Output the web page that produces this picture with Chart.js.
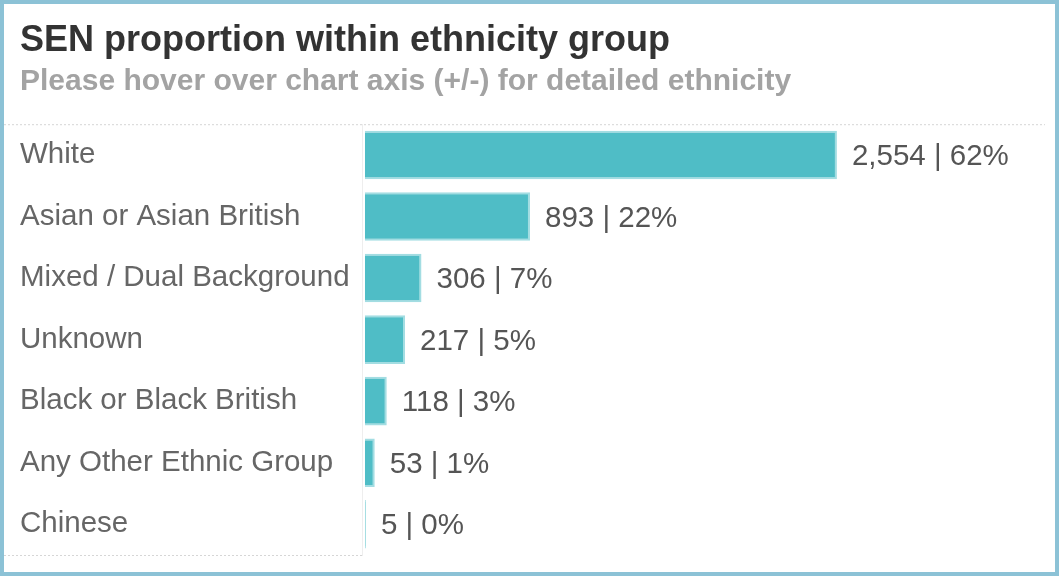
<!DOCTYPE html>
<html>
<head>
<meta charset="utf-8">
<script src="https://cdn.jsdelivr.net/npm/chart.js@4.4.0/dist/chart.umd.min.js"></script>
<style>
  html, body { margin: 0; padding: 0; background: #fff; }
  #wrap { position: relative; width: 1059px; height: 576px; }
  #frame { position: absolute; left: 0; top: 0; right: 0; bottom: 0; border: 4px solid #8cc2d6; pointer-events: none; }
</style>
</head>
<body>
<div id="wrap">
  <canvas id="ethnicityChart" width="1059" height="576"></canvas>
  <div id="frame"></div>
</div>
<script>
// Data
const groups = ['White', 'Asian or Asian British', 'Mixed / Dual Background', 'Unknown', 'Black or Black British', 'Any Other Ethnic Group', 'Chinese'];
const counts = [2554, 893, 306, 217, 118, 53, 5];
const shares = [62, 22, 7, 5, 3, 1, 0];

const FONT = '"Liberation Sans", Arial, sans-serif';

// dotted rules + "count | share" labels next to bars
const barLabels = {
  id: 'barLabels',
  afterDraw(chart) {
    const ctx = chart.ctx;
    const { top, bottom, left, right } = chart.chartArea;
    ctx.save();
    ctx.strokeStyle = '#d6d6d6';
    ctx.lineWidth = 1;
    ctx.setLineDash([2, 2]);
    ctx.beginPath();
    ctx.moveTo(4, top + 0.5); ctx.lineTo(right, top + 0.5);
    ctx.moveTo(4, bottom + 0.5); ctx.lineTo(left, bottom + 0.5);
    ctx.stroke();
    ctx.setLineDash([]);

    ctx.fillStyle = '#555';
    ctx.font = '29.5px ' + FONT;
    ctx.textAlign = 'left';
    ctx.textBaseline = 'middle';
    chart.getDatasetMeta(0).data.forEach((bar, i) => {
      ctx.fillText(counts[i].toLocaleString('en-GB') + ' | ' + shares[i] + '%', bar.x + 15, bar.y + 2);
    });
    ctx.restore();
  }
};

new Chart(document.getElementById('ethnicityChart'), {
  type: 'bar',
  data: {
    labels: groups,
    datasets: [{
      data: counts,
      backgroundColor: '#4fbdc6',
      borderColor: '#a3dde2',
      borderWidth: 2,
      borderSkipped: 'left',
      categoryPercentage: 1,
      barPercentage: 0.79
    }]
  },
  options: {
    indexAxis: 'y',
    responsive: false,
    animation: false,
    layout: { padding: { top: 19, left: 20, right: 14, bottom: 21 } },
    plugins: {
      legend: { display: false },
      tooltip: { enabled: false },
      title: {
        display: true,
        text: 'SEN proportion within ethnicity group',
        align: 'start',
        color: '#333',
        font: { family: FONT, size: 36, weight: 'bold' },
        padding: { top: 0, bottom: 2 }
      },
      subtitle: {
        display: true,
        text: 'Please hover over chart axis (+/-) for detailed ethnicity',
        align: 'start',
        color: '#a3a3a3',
        font: { family: FONT, size: 30, weight: 'bold' },
        padding: { top: 0, bottom: 24 }
      }
    },
    scales: {
      x: { display: false, min: -16, max: 3680 },
      y: {
        grid: { display: false },
        border: { display: true, color: '#eeeeee', width: 1 },
        afterFit(scale) { scale.width = 342; },
        ticks: {
          crossAlign: 'far',
          color: '#666',
          font: { family: FONT, size: 29.5 }
        }
      }
    }
  },
  plugins: [barLabels]
});
</script>
</body>
</html>
